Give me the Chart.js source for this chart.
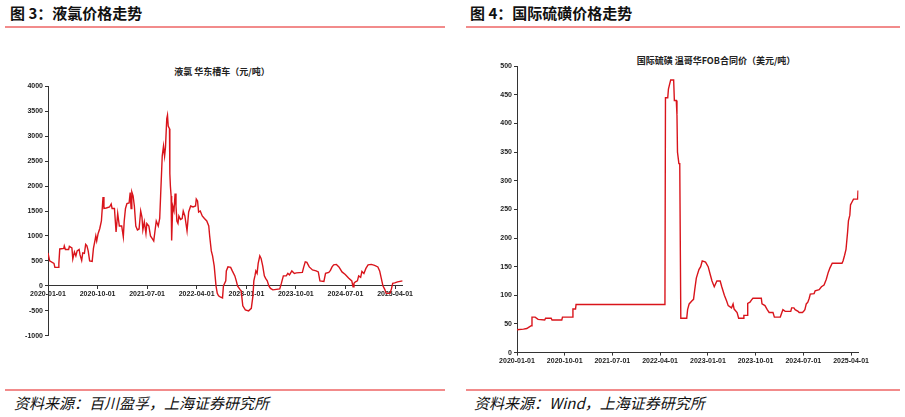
<!DOCTYPE html>
<html><head><meta charset="utf-8">
<script src="https://cdn.jsdelivr.net/npm/chart.js@4"></script>
<style>
body{margin:0;width:905px;height:417px;background:#fff;position:relative;font-family:"Noto Sans CJK SC",sans-serif;overflow:hidden}
.hd{position:absolute;top:2px;font-size:15px;font-weight:bold;color:#111}
.ln{position:absolute;height:2px;background:#f28b8b}
.ft{position:absolute;top:392px;font-size:15px;font-style:italic;color:#111}
.ttl{position:absolute;font-size:9px;font-weight:bold;color:#222;transform:translateX(-50%);white-space:nowrap}
.box{position:absolute}
</style></head><body>
<div class="hd" style="left:10px">图 3：液氯价格走势</div>
<div class="hd" style="left:470px">图 4：国际硫磺价格走势</div>
<div class="ln" style="left:5px;width:440px;top:26px"></div>
<div class="ln" style="left:466px;width:434px;top:26px"></div>
<div class="ln" style="left:5px;width:440px;top:389px"></div>
<div class="ln" style="left:466px;width:434px;top:389px"></div>
<div class="ft" style="left:14px">资料来源：百川盈孚，上海证券研究所</div>
<div class="ft" style="left:474px">资料来源：Wind，上海证券研究所</div>
<div class="ttl" style="left:222px;top:65px">液氯 华东槽车（元/吨）</div>
<div class="ttl" style="left:716px;top:54px">国际硫磺 温哥华FOB合同价（美元/吨）</div>
<div class="box" style="left:0;top:80px;width:414px;height:262px"><canvas id="c1"></canvas></div>
<div class="box" style="left:470px;top:60px;width:400px;height:306px"><canvas id="c2"></canvas></div>
<script>
// x values are days since 2020-01-01
const tickLabels = ['2020-01-01','2020-10-01','2021-07-01','2022-04-01','2023-01-01','2023-10-01','2024-07-01','2025-04-01'];

const chlorineDays = [0,9,33,38,56,60,65,87,90,96,114,118,132,137,146,154,161,172,177,186,192,201,208,215,222,230,244,251,259,264,269,277,286,295,304,309,322,340,349,354,367,376,385,394,407,416,421,428,436,448,454,459,463,470,477,485,494,503,512,519,524,532,541,546,557,566,575,584,591,598,609,617,622,631,638,644,649,656,660,664,671,673,676,680,683,689,696,702,707,712,718,723,732,741,747,756,768,777,788,801,815,819,826,832,841,852,864,877,888,893,902,909,918,928,935,942,951,964,969,982,985,994,1009,1018,1032,1040,1047,1060,1067,1076,1090,1108,1123,1132,1137,1143,1148,1155,1161,1170,1177,1186,1195,1202,1211,1220,1229,1242,1280,1289,1300,1316,1325,1334,1347,1361,1372,1405,1412,1421,1430,1443,1461,1481,1493,1502,1524,1533,1551,1560,1569,1578,1593,1607,1624,1642,1660,1678,1685,1690,1698,1709,1716,1727,1734,1745,1756,1768,1786,1804,1822,1832,1841,1850,1860,1868,1889,1897,1904,1915,1931,1958];
const chlorineValues = [660,500,450,370,370,450,740,750,800,730,730,790,760,540,680,600,700,730,620,510,660,650,830,800,700,500,490,750,900,1000,900,1050,1150,1300,1780,1550,1560,1580,1640,1550,1550,1080,1450,1200,1200,980,1300,1550,1650,1660,1870,1550,1880,1800,1600,1200,1120,1140,1500,1380,1120,1280,1050,1250,1200,1000,950,900,1100,1300,1200,1350,1800,2600,2800,2600,2780,3350,3420,3200,3150,2250,2000,1800,910,1600,1500,1850,1600,1300,1250,1400,1330,1350,1500,1400,1100,1480,1600,1580,1600,1740,1700,1480,1500,1400,1350,1300,1200,1000,700,600,400,0,-150,-200,-220,-240,0,100,300,380,370,300,200,100,0,-70,-100,-400,-480,-500,-450,-200,100,200,300,250,450,600,550,400,200,150,100,0,-50,-80,-60,50,200,200,250,220,300,250,260,270,370,480,470,380,320,300,280,100,90,250,270,310,380,420,430,380,280,230,160,100,-20,50,80,100,200,170,290,250,350,420,430,410,380,300,150,0,-70,-150,-150,-60,50,60,80,100];

const sulfurDays = [0,37,56,71,82,86,104,121,159,164,196,201,257,261,317,321,336,339,849,852,865,869,877,882,899,903,914,918,921,929,934,940,974,979,988,1003,1013,1020,1029,1044,1054,1063,1082,1097,1110,1119,1132,1147,1166,1175,1190,1203,1212,1231,1240,1246,1263,1272,1298,1302,1320,1324,1337,1346,1354,1402,1406,1423,1436,1447,1469,1477,1511,1520,1526,1539,1571,1576,1589,1596,1613,1619,1638,1645,1652,1660,1669,1677,1683,1705,1711,1734,1747,1762,1775,1786,1796,1809,1865,1871,1880,1888,1897,1902,1910,1914,1921,1931,1955,1957];
const sulfurValues = [40,41,42,45,47,62,62,58,57,60,60,57,57,62,62,76,76,84,84,445,445,460,470,476,476,440,440,415,350,330,330,60,60,75,85,90,93,110,130,145,150,160,158,150,135,125,115,125,125,115,100,90,82,78,85,76,70,60,60,65,65,86,88,92,95,95,85,82,75,70,70,62,62,70,75,72,72,78,78,75,72,70,70,72,75,85,88,95,102,103,108,110,115,118,128,140,148,156,156,160,170,180,210,230,240,258,262,268,268,283];

const tickDays = tickLabels.map(s => (Date.parse(s) - Date.parse('2020-01-01')) / 86400000);
const pts = (xs, ys) => xs.map((x, i) => ({x: x, y: ys[i]}));
const tickFont = {family: 'Liberation Sans, Arial', size: 7, weight: 'bold'};

function makeChart(id, xs, ys, yMin, yMax, yStep, xPos, yWidth, pad) {
    new Chart(document.getElementById(id), {
        type: 'line',
        data: {datasets: [{data: pts(xs, ys), borderColor: '#d9141b', borderWidth: 1.4, pointRadius: 0, tension: 0}]},
        options: {
            animation: false, responsive: true, maintainAspectRatio: false,
            layout: {padding: pad},
            plugins: {legend: {display: false}, tooltip: {enabled: false}},
            scales: {
                x: {
                    type: 'linear', min: 0, max: 1960, position: xPos,
                    afterBuildTicks: s => { s.ticks = tickDays.map(v => ({value: v})); },
                    ticks: {font: tickFont, color: '#222', maxRotation: 0, autoSkip: false, padding: 1,
                        callback: (v) => tickLabels[tickDays.indexOf(v)]},
                    grid: {drawOnChartArea: false, tickLength: 3, color: '#333'},
                    border: {color: '#333', width: 1}
                },
                y: {
                    min: yMin, max: yMax,
                    afterFit: s => { s.width = yWidth; },
                    ticks: {stepSize: yStep, font: tickFont, color: '#222', padding: 2, callback: v => String(v)},
                    grid: {drawOnChartArea: false, tickLength: 3, color: '#333'},
                    border: {color: '#333', width: 1}
                }
            }
        }
    });
}

makeChart('c1', chlorineDays, chlorineValues, -1000, 4000, 500, {y: 0}, 48, {top: 6, bottom: 4, right: 2});
makeChart('c2', sulfurDays, sulfurValues, 0, 500, 50, 'bottom', 47, {top: 5, right: 2});
</script>
</body></html>
